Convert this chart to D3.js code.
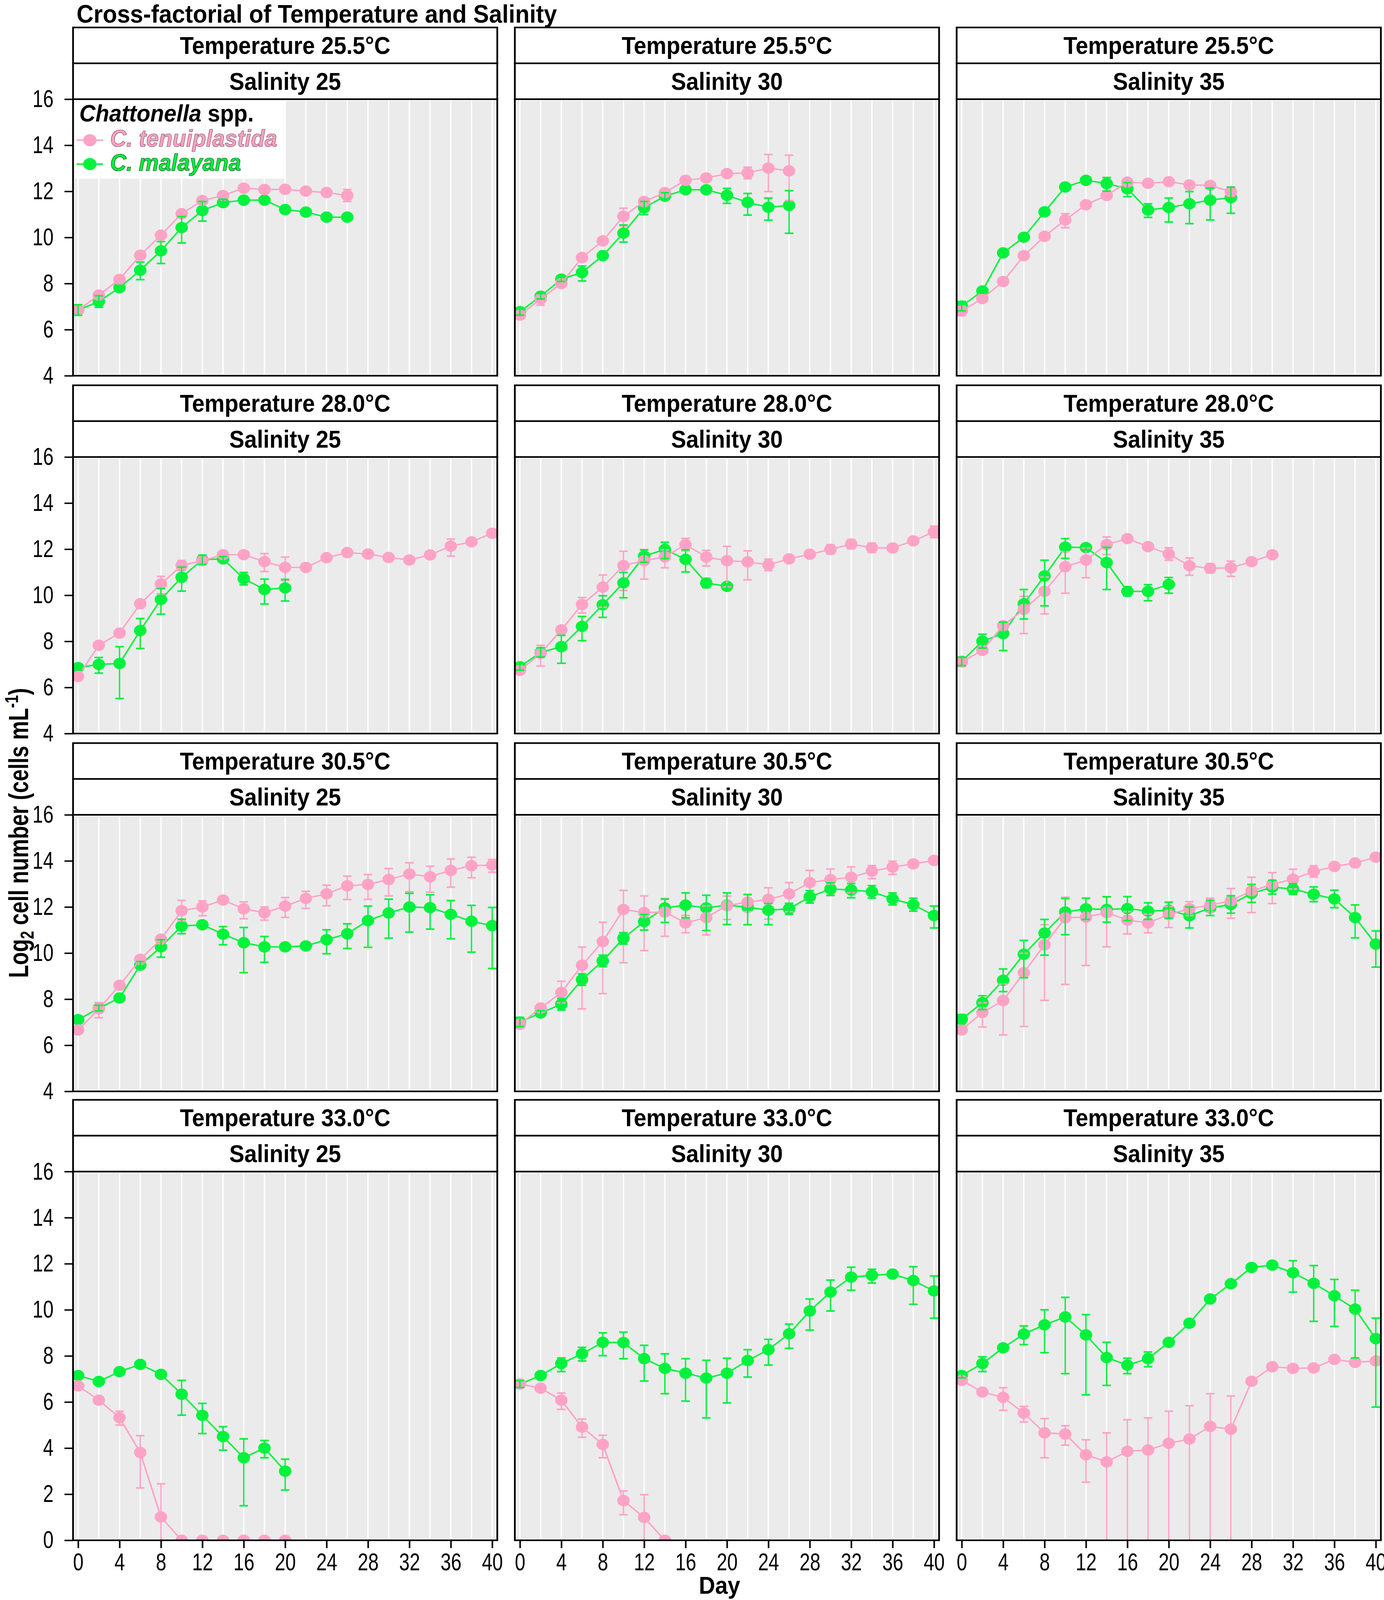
<!DOCTYPE html>
<html>
<head>
<meta charset="utf-8">
<script src="https://cdn.jsdelivr.net/npm/d3@7"></script>
<style>
  html, body { margin: 0; padding: 0; background: #fff; overflow: hidden; }
  svg { display: block; width: 100vw; height: 100vh; }
</style>
</head>
<body>
<script>
// ---- data (log2 cells/mL), one value per sampling day; error = sd or [down, up] ----
const days = [0,2,4,6,8,10,12,14,16,18,20,22,24,26,28,30,32,34,36,38,40];
const temps = ['25.5', '28.0', '30.5', '33.0'];
const salinities = [25, 30, 35];
const xTicks = [0,4,8,12,16,20,24,28,32,36,40];
const yTicksTop = [4,6,8,10,12,14,16];
const yTicksBottom = [0,2,4,6,8,10,12,14,16];

// 25.5 C
const ten_255_25 = [6.85,7.50,8.18,9.23,10.10,11.03,11.60,11.82,12.14,12.08,12.09,12.01,11.95,11.82];
const ten_255_25_err = [0.1,0.1,0.1,0.1,0.1,0.1,0.08,0.08,0.08,0.08,0.08,0.08,0.1,0.26];
const mal_255_25 = [6.85,7.22,7.82,8.58,9.42,10.43,11.17,11.51,11.62,11.62,11.21,11.10,10.88,10.88];
const mal_255_25_err = [0.23,0.25,0.1,[0.41,0.35],[0.55,0.40],[0.67,0.48],[0.46,0.39],0.15,0.1,0.1,0.1,0.1,0.1,0.1];

const ten_255_30 = [6.63,7.33,8.00,9.13,9.85,10.92,11.56,11.95,12.48,12.58,12.77,12.80,13.01,12.89];
const ten_255_30_err = [0.1,[0.27,0.2],0.1,0.1,0.1,[0.42,0.35],0.1,0.1,0.1,0.1,0.1,0.25,[1.02,0.59],[1.29,0.68]];
const mal_255_30 = [6.78,7.45,8.19,8.48,9.21,10.19,11.29,11.79,12.07,12.07,11.83,11.52,11.31,11.39];
const mal_255_30_err = [0.15,0.12,0.1,[0.37,0.28],0.1,[0.39,0.35],[0.30,0.27],0.15,0.1,0.1,[0.35,0.30],[0.55,0.39],[0.56,0.40],[1.21,0.64]];

const ten_255_35 = [6.81,7.35,8.09,9.21,10.05,10.76,11.42,11.82,12.40,12.35,12.42,12.28,12.26,11.99];
const ten_255_35_err = [0.2,0.1,0.1,0.1,0.1,[0.34,0.27],0.1,0.1,0.1,0.1,0.1,0.1,0.1,0.2];
const mal_255_35 = [7.02,7.68,9.33,10.01,11.11,12.19,12.48,12.34,12.11,11.19,11.30,11.46,11.62,11.73];
const mal_255_35_err = [0.2,0.1,0.1,0.1,0.1,0.15,0.1,[0.33,0.26],[0.34,0.27],[0.32,0.27],[0.63,0.41],[0.86,0.53],[0.86,0.52],[0.68,0.45]];

// 28.0 C
const ten_280_25 = [6.48,7.83,8.36,9.63,10.49,11.29,11.50,11.76,11.76,11.46,11.21,11.21,11.63,11.85,11.79,11.64,11.53,11.75,12.13,12.32,12.69];
const ten_280_25_err = [0.1,0.1,0.1,0.1,[0.43,0.33],0.22,0.15,0.1,0.1,[0.43,0.35],[0.57,0.45],0.15,0.1,0.13,0.13,0.13,0.1,0.13,[0.43,0.31],0.1,0.15];
const mal_280_25 = [6.86,7.00,7.04,8.47,9.82,10.78,11.54,11.58,10.72,10.25,10.32];
const mal_280_25_err = [0.1,[0.38,0.30],[1.52,0.73],[0.78,0.52],[0.64,0.47],[0.60,0.44],0.2,0.1,0.27,[0.63,0.45],[0.57,0.37]];

const ten_280_30 = [6.74,7.48,8.50,9.60,10.35,11.29,11.50,11.67,12.20,11.66,11.50,11.45,11.32,11.58,11.78,11.99,12.22,12.06,12.05,12.36,12.75];
const ten_280_30_err = [0.1,[0.55,0.35],0.1,[0.37,0.30],[0.87,0.53],[1.08,0.62],[0.80,0.48],[0.48,0.30],0.27,[0.39,0.29],[1.13,0.62],[0.78,0.48],0.25,0.1,0.1,0.2,0.2,0.2,0.1,0.1,0.25];
const mal_280_30 = [6.90,7.52,7.77,8.65,9.59,10.54,11.70,11.99,11.56,10.53,10.39];
const mal_280_30_err = [0.15,0.2,[0.72,0.49],[0.62,0.43],[0.55,0.39],[0.65,0.45],0.27,[0.40,0.31],[0.55,0.41],0.2,0.1];

const ten_280_35 = [7.11,7.61,8.68,9.39,10.17,11.24,11.53,12.20,12.46,12.11,11.79,11.28,11.17,11.19,11.46,11.76];
const ten_280_35_err = [0.2,0.1,0.15,[1.05,0.56],[0.98,0.62],[1.15,0.65],[0.77,0.52],[0.43,0.33],0.1,0.1,0.27,[0.41,0.34],0.2,[0.37,0.29],0.1,0.1];
const mal_280_35 = [7.13,8.01,8.34,9.63,10.84,12.09,12.07,11.42,10.17,10.17,10.47];
const mal_280_35_err = [0.18,0.3,[0.74,0.49],[0.66,0.62],[1.30,0.68],[0.49,0.37],0.1,[1.17,0.66],0.2,[0.41,0.29],[0.38,0.30]];

// 30.5 C
const ten_305_25 = [6.66,7.58,8.60,9.73,10.60,11.84,12.00,12.30,11.92,11.75,12.04,12.37,12.57,12.92,12.98,13.19,13.43,13.31,13.59,13.79,13.82];
const ten_305_25_err = [0.1,[0.39,0.27],0.1,0.15,0.15,0.45,[0.38,0.27],0.1,[0.43,0.30],[0.32,0.25],[0.49,0.37],[0.43,0.31],[0.52,0.38],[0.60,0.42],[0.65,0.43],[0.71,0.48],[0.77,0.49],[0.67,0.46],[0.73,0.49],[0.52,0.37],[0.31,0.24]];
const mal_305_25 = [7.11,7.61,8.05,9.48,10.27,11.17,11.23,10.82,10.45,10.27,10.27,10.31,10.58,10.84,11.41,11.74,12.00,11.97,11.68,11.38,11.19];
const mal_305_25_err = [0.1,0.12,0.1,0.15,[0.45,0.31],[0.33,0.30],0.1,[0.46,0.33],[1.30,0.66],[0.67,0.45],0.15,0.1,[0.61,0.43],[0.64,0.43],[1.16,0.63],[1.09,0.60],[1.09,0.59],[0.93,0.56],[1.06,0.60],[1.34,0.69],[1.86,0.79]];

const ten_305_30 = [6.91,7.62,8.29,9.47,10.50,11.89,11.76,11.78,11.31,11.54,12.06,12.21,12.33,12.57,13.06,13.19,13.29,13.55,13.73,13.87,14.02];
const ten_305_30_err = [0.1,0.1,[0.45,0.49],[1.89,0.79],[2.26,0.84],[2.31,0.83],[1.65,0.72],[1.05,0.59],[0.43,0.32],[0.75,0.51],[0.60,0.41],[0.41,0.34],[0.86,0.50],[0.77,0.49],[0.89,0.53],[0.70,0.46],[0.67,0.45],[0.32,0.25],[0.31,0.26],0.1,0.1];
const mal_305_30 = [7.01,7.40,7.78,8.85,9.66,10.64,11.37,11.96,12.08,11.96,12.08,11.99,11.86,11.92,12.44,12.78,12.74,12.66,12.35,12.10,11.63];
const mal_305_30_err = [0.2,0.1,0.25,0.25,0.25,0.25,[0.37,0.31],[0.63,0.38],[0.55,0.53],[0.98,0.55],[0.84,0.53],[0.76,0.55],[0.63,0.29],0.24,0.27,0.27,[0.34,0.28],0.27,0.26,0.28,[0.54,0.41]];

const ten_305_35 = [6.67,7.42,7.94,9.15,10.36,11.53,11.56,11.76,11.43,11.31,11.67,11.93,12.08,12.27,12.70,12.98,13.21,13.54,13.76,13.91,14.16];
const ten_305_35_err = [0.1,[0.63,0.42],[1.49,0.72],[2.33,0.84],[2.41,0.87],[2.89,0.89],[2.10,0.82],[1.49,0.69],[0.60,0.37],[0.43,0.38],[0.56,0.35],0.3,0.3,[0.76,0.53],[0.94,0.59],[0.83,0.51],0.43,0.25,0.1,0.1,0.1];
const mal_305_35 = [7.13,7.85,8.82,9.95,10.87,11.78,11.92,11.89,11.93,11.82,11.86,11.62,11.96,12.11,12.59,12.86,12.78,12.55,12.35,11.54,10.39];
const mal_305_35_err = [0.2,0.3,0.49,[1.02,0.60],[0.96,0.59],[0.98,0.59],0.46,0.55,0.52,0.36,0.35,[0.53,0.38],0.33,0.38,0.39,0.3,0.23,0.32,0.38,[0.88,0.55],[1.0,0.57]];

// 33.0 C
const ten_330_25 = [6.70,6.08,5.32,3.81,1.01,0,0,0,0,0,0];
const ten_330_25_err = [0.1,0.1,[0.32,0.28],[1.54,0.73],[1.6,1.44],0,0,0,0,0,0];
const mal_330_25 = [7.15,6.89,7.32,7.63,7.20,6.34,5.42,4.50,3.58,4.00,3.00];
const mal_330_25_err = [0.1,0.15,0.1,0.1,0.12,[0.91,0.6],[0.79,0.52],[0.59,0.43],[2.08,0.82],[0.42,0.33],[0.82,0.52]];

const ten_330_30 = [6.78,6.60,6.08,4.91,4.16,1.72,0.99,0];
const ten_330_30_err = [0.1,0.1,[0.40,0.31],[0.44,0.35],[0.58,0.40],[0.61,0.42],[1.5,0.99],0];
const mal_330_30 = [6.78,7.15,7.67,8.09,8.59,8.58,7.88,7.46,7.25,7.04,7.25,7.80,8.27,8.96,9.95,10.77,11.42,11.50,11.55,11.27,10.82];
const mal_330_30_err = [0.15,0.1,[0.35,0.24],[0.31,0.28],[0.58,0.41],[0.70,0.45],[0.97,0.58],[1.10,0.63],[1.21,0.63],[1.73,0.77],[1.29,0.65],[0.72,0.47],[0.67,0.45],[0.63,0.42],[0.83,0.52],[0.82,0.52],[0.57,0.43],[0.34,0.26],0.1,[1.03,0.60],[1.18,0.65]];

const ten_330_35 = [6.94,6.43,6.20,5.52,4.66,4.61,3.71,3.40,3.86,3.92,4.21,4.39,4.94,4.82,6.90,7.53,7.46,7.48,7.85,7.72,7.78];
const ten_330_35_err = [0.1,0.1,[0.56,0.42],[0.39,0.29],[1.08,0.62],[0.48,0.36],[1.19,0.65],[4.0,1.26],[4.5,1.37],[4.5,1.39],[5.0,1.39],[5.0,1.45],[5.5,1.42],[5.5,1.44],0.1,0.1,0.1,0.1,0.1,0.1,0.1];
const mal_330_35 = [7.15,7.67,8.35,8.95,9.35,9.69,8.91,7.93,7.60,7.88,8.59,9.42,10.47,11.13,11.84,11.94,11.61,11.15,10.61,10.03,8.75];
const mal_330_35_err = [0.1,[0.35,0.29],0.1,[0.46,0.35],[1.21,0.65],[2.46,0.85],[2.60,0.88],[1.21,0.66],[0.37,0.30],[0.35,0.29],0.1,0.1,0.1,0.1,0.1,0.1,[0.84,0.52],[1.65,0.77],[1.33,0.71],[2.12,0.82],[2.97,0.89]];

const tenGrid = [
  [[ten_255_25, ten_255_25_err], [ten_255_30, ten_255_30_err], [ten_255_35, ten_255_35_err]],
  [[ten_280_25, ten_280_25_err], [ten_280_30, ten_280_30_err], [ten_280_35, ten_280_35_err]],
  [[ten_305_25, ten_305_25_err], [ten_305_30, ten_305_30_err], [ten_305_35, ten_305_35_err]],
  [[ten_330_25, ten_330_25_err], [ten_330_30, ten_330_30_err], [ten_330_35, ten_330_35_err]]
];
const malGrid = [
  [[mal_255_25, mal_255_25_err], [mal_255_30, mal_255_30_err], [mal_255_35, mal_255_35_err]],
  [[mal_280_25, mal_280_25_err], [mal_280_30, mal_280_30_err], [mal_280_35, mal_280_35_err]],
  [[mal_305_25, mal_305_25_err], [mal_305_30, mal_305_30_err], [mal_305_35, mal_305_35_err]],
  [[mal_330_25, mal_330_25_err], [mal_330_30, mal_330_30_err], [mal_330_35, mal_330_35_err]]
];

// ---- layout ----
const W = 3543, H = 4485;
const FONT = "'Liberation Sans', Arial, Helvetica, sans-serif";
const PINK = '#FFA3C6', GREEN = '#00F23C';
const colLeft = [187, 1318, 2449];
const panelW = 1086;
const plotTop = [278, 1281, 2284, 3284];
const unit = 64.6;       // px per log2 unit, same in every row
const stripH = 100.5;

// the drawing keeps its 3543x4485 coordinates and fills the whole window
const svg = d3.select('body').append('svg')
  .attr('viewBox', `0 0 ${W} ${H}`)
  .attr('preserveAspectRatio', 'none');

svg.append('rect').attr('width', W).attr('height', H).attr('fill', '#fff');

function stext(parent, x, y, sx, size, weight, anchor) {
  return parent.append('text')
    .attr('transform', `translate(${x},${y}) scale(${sx},1)`)
    .attr('font-family', FONT)
    .attr('font-size', size)
    .attr('font-weight', weight)
    .attr('text-anchor', anchor)
    .attr('fill', '#000');
}

stext(svg, 196, 64, 0.86, 70, 'bold', 'start').text('Cross-factorial of Temperature and Salinity');

const x = d3.scaleLinear().domain([0, 40]).range([13, panelW - 13]);
const gridDays = d3.range(0, 41, 2);

function errPair(e) { return Array.isArray(e) ? e : [e, e]; }

temps.forEach((temp, r) => {
  const lo = r === 3 ? 0 : 4;
  const plotH = (16 - lo) * unit;
  const y = d3.scaleLinear().domain([lo, 16]).range([plotH, 0]);

  salinities.forEach((sal, c) => {
    const g = svg.append('g').attr('transform', `translate(${colLeft[c]},${plotTop[r]})`);
    const clipId = `clip-${r}-${c}`;
    g.append('clipPath').attr('id', clipId)
      .append('rect').attr('x', 0).attr('y', 0).attr('width', panelW).attr('height', plotH);

    g.append('rect').attr('x', 4).attr('y', 4)
      .attr('width', panelW - 8).attr('height', plotH - 8)
      .attr('fill', '#EBEBEB');

    const inner = g.append('g').attr('clip-path', `url(#${clipId})`);
    inner.selectAll('line.grid').data(gridDays).enter().append('line')
      .attr('class', 'grid')
      .attr('x1', d => x(d)).attr('x2', d => x(d))
      .attr('y1', 4).attr('y2', plotH - 4)
      .attr('stroke', '#fff').attr('stroke-width', 3.5);

    const line = d3.line().x((d, i) => x(days[i])).y(d => y(d));
    const series = [
      { vals: malGrid[r][c][0], errs: malGrid[r][c][1], col: GREEN },
      { vals: tenGrid[r][c][0], errs: tenGrid[r][c][1], col: PINK }
    ];

    // lines and points: green first, pink on top
    series.forEach(s => {
      inner.append('path').datum(s.vals)
        .attr('d', line).attr('fill', 'none')
        .attr('stroke', s.col).attr('stroke-width', 4);
      inner.selectAll(null).data(s.vals).enter().append('circle')
        .attr('cx', (d, i) => x(days[i])).attr('cy', d => y(d))
        .attr('r', 16).attr('fill', s.col);
    });

    // error bars: pink then green
    [series[1], series[0]].forEach(s => {
      s.vals.forEach((m, i) => {
        const [dn, up] = errPair(s.errs[i]);
        if (!dn && !up) return;
        const cx = x(days[i]);
        const y1 = y(m - dn), y2 = y(m + up);
        const eb = inner.append('g').attr('stroke', s.col);
        eb.append('line').attr('x1', cx).attr('x2', cx).attr('y1', y1).attr('y2', y2).attr('stroke-width', 3.5);
        eb.append('line').attr('x1', cx - 11).attr('x2', cx + 11).attr('y1', y1).attr('y2', y1).attr('stroke-width', 4.5);
        eb.append('line').attr('x1', cx - 11).attr('x2', cx + 11).attr('y1', y2).attr('y2', y2).attr('stroke-width', 4.5);
      });
    });

    g.append('rect').attr('x', 0).attr('y', 0)
      .attr('width', panelW).attr('height', plotH)
      .attr('fill', 'none').attr('stroke', '#000').attr('stroke-width', 4.5);

    // strips
    [['Temperature ' + temp + '\u00B0C', -2 * stripH], ['Salinity ' + sal, -stripH]].forEach(([lab, sy]) => {
      g.append('rect').attr('x', 0).attr('y', sy)
        .attr('width', panelW).attr('height', stripH)
        .attr('fill', '#fff').attr('stroke', '#000').attr('stroke-width', 4.5);
      stext(g, panelW / 2, sy + stripH / 2 + 24, 0.85, 68, 'bold', 'middle').text(lab);
    });

    // axes
    if (c === 0) {
      const ya = g.append('g').call(
        d3.axisLeft(y).tickValues(r === 3 ? yTicksBottom : yTicksTop)
          .tickSize(22).tickPadding(0).tickFormat(d3.format('d')));
      ya.select('.domain').remove();
      ya.selectAll('.tick line').attr('stroke', '#000').attr('stroke-width', 4);
      ya.selectAll('.tick text')
        .attr('font-family', FONT).attr('font-size', 68).attr('fill', '#000')
        .attr('x', -50 / 0.71).attr('transform', 'scale(0.71,1)');
    }
    if (r === 3) {
      const xa = g.append('g').attr('transform', `translate(0,${plotH})`).call(
        d3.axisBottom(x).tickValues(xTicks).tickSize(22).tickPadding(14));
      xa.select('.domain').remove();
      xa.selectAll('.tick line').attr('stroke', '#000').attr('stroke-width', 4);
      xa.selectAll('.tick text')
        .attr('font-family', FONT).attr('font-size', 68).attr('fill', '#000')
        .attr('transform', 'scale(0.71,1)');
    }

    // legend in the first panel
    if (r === 0 && c === 0) {
      const lg = g.append('g');
      lg.append('rect').attr('x', 5).attr('y', 5).attr('width', 538).attr('height', 218).attr('fill', '#fff');
      const t = stext(lg, 16, 62, 0.87, 66, 'bold', 'start');
      t.append('tspan').attr('font-style', 'italic').text('Chattonella');
      t.append('tspan').text(' spp.');
      [['C. tenuiplastida', PINK, 115, '#7a4d5e'], ['C. malayana', GREEN, 182, '#0b4d18']].forEach(([name, col, ly, edge]) => {
        lg.append('line').attr('x1', 9).attr('x2', 77).attr('y1', ly).attr('y2', ly)
          .attr('stroke', col).attr('stroke-width', 4);
        lg.append('circle').attr('cx', 43).attr('cy', ly).attr('r', 17).attr('fill', col);
        stext(lg, 95, ly + 18, 0.87, 66, 'bold', 'start')
          .attr('font-style', 'italic')
          .attr('fill', col).attr('stroke', edge).attr('stroke-width', 1.3)
          .text(name);
      });
    }
  });
});

// axis titles
const yl = svg.append('text')
  .attr('transform', 'translate(72,2335) rotate(-90) scale(0.85,1)')
  .attr('font-family', FONT).attr('font-size', 70).attr('font-weight', 'bold')
  .attr('text-anchor', 'middle').attr('fill', '#000');
yl.append('tspan').text('Log');
yl.append('tspan').attr('font-size', 48).attr('dy', 14).text('2');
yl.append('tspan').attr('dy', -14).text(' cell number (cells mL');
yl.append('tspan').attr('font-size', 48).attr('dy', -26).text('-1');
yl.append('tspan').attr('dy', 26).text(')');

stext(svg, 1842, 4468, 0.85, 68, 'bold', 'middle').text('Day');
</script>
</body>
</html>
